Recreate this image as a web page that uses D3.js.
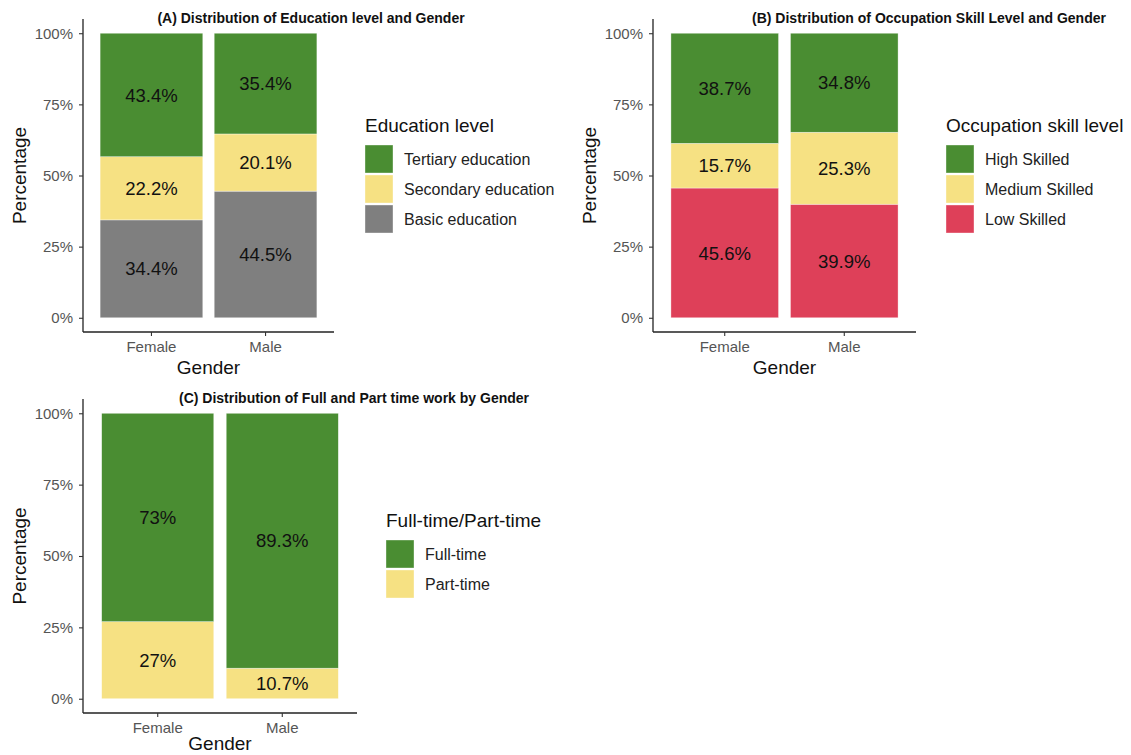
<!DOCTYPE html>
<html>
<head>
<meta charset="utf-8">
<script src="https://cdn.jsdelivr.net/npm/d3@7"></script>
<style>
  html, body { margin: 0; padding: 0; background: #fff; }
  svg { display: block; font-family: "Liberation Sans", Arial, sans-serif; }
</style>
</head>
<body>
<svg id="chart" width="1131" height="755"></svg>
<script>
// Categories and values (percent of each gender)
const genders = ["Female", "Male"];
const yTicks = [0, 25, 50, 75, 100];

const educationLevels = ["Tertiary education", "Secondary education", "Basic education"];
const educationFemale = [43.4, 22.2, 34.4];
const educationMale = [35.4, 20.1, 44.5];

const skillLevels = ["High Skilled", "Medium Skilled", "Low Skilled"];
const skillFemale = [38.7, 15.7, 45.6];
const skillMale = [34.8, 25.3, 39.9];

const workTypes = ["Full-time", "Part-time"];
const workFemale = [73, 27];
const workMale = [89.3, 10.7];

const GREEN = "#4a8d32", YELLOW = "#f6e183", GREY = "#7f7f7f", RED = "#de4059";

const svg = d3.select("#chart");

function drawPanel(opt) {
  const { left, right, top, bottom, categories, female, male, colors } = opt;
  const g = svg.append("g");

  // rows: one object per gender with a field per category
  const rows = genders.map((gd, i) => {
    const vals = i === 0 ? female : male;
    const r = { gender: gd };
    categories.forEach((c, j) => r[c] = vals[j]);
    return r;
  });

  const x = d3.scaleBand().domain(genders).range([left, right])
    .paddingInner(0.1).paddingOuter(0.15);
  const y = d3.scaleLinear().domain([-5, 105]).range([bottom, top]);
  const color = d3.scaleOrdinal().domain(categories).range(colors);

  // last category sits at the bottom of the stack
  const stack = d3.stack().keys(categories.slice().reverse());
  const series = stack(rows);

  const layers = g.selectAll("g.layer").data(series).join("g")
    .attr("class", "layer").attr("fill", d => color(d.key));

  layers.selectAll("rect").data(d => d).join("rect")
    .attr("x", d => x(d.data.gender))
    .attr("width", x.bandwidth())
    .attr("y", d => y(d[1]))
    .attr("height", d => y(d[0]) - y(d[1]))
    .attr("stroke", "#ffffff").attr("stroke-opacity", 0.6).attr("stroke-width", 0.6);

  layers.selectAll("text").data(d => d).join("text")
    .attr("x", d => x(d.data.gender) + x.bandwidth() / 2)
    .attr("y", d => y((d[0] + d[1]) / 2))
    .attr("dy", "0.36em")
    .attr("text-anchor", "middle")
    .attr("font-size", 18.5)
    .attr("fill", "#111")
    .text(d => (d[1] - d[0]).toFixed(1).replace(/\.0$/, "") + "%");

  // y axis
  const yAxis = g.append("g").attr("transform", `translate(${left},0)`)
    .call(d3.axisLeft(y).tickValues(yTicks).tickSize(4).tickPadding(6)
      .tickFormat(d => d + "%"));
  yAxis.select(".domain").attr("d", `M0,${top}V${bottom}`);

  // x axis
  const xAxis = g.append("g").attr("transform", `translate(0,${bottom})`)
    .call(d3.axisBottom(x).tickSize(4).tickPadding(5));
  xAxis.select(".domain").attr("d", `M${left},0H${right}`);

  [yAxis, xAxis].forEach(ax => {
    ax.select(".domain").attr("stroke", "#222").attr("stroke-width", 1.3);
    ax.selectAll(".tick line").attr("stroke", "#333").attr("stroke-width", 1.1);
    ax.selectAll(".tick text").attr("fill", "#555").attr("font-size", 15)
      .attr("font-family", "Liberation Sans, Arial, sans-serif");
  });
  xAxis.selectAll(".tick text").attr("dy", "0.71em");

  // axis titles
  g.append("text")
    .attr("transform", `translate(${left - 57},${(top + bottom) / 2}) rotate(-90)`)
    .attr("text-anchor", "middle").attr("font-size", 19).attr("fill", "#111")
    .text("Percentage");
  g.append("text")
    .attr("x", (left + right) / 2).attr("y", bottom + (opt.genderGap || 42))
    .attr("text-anchor", "middle").attr("font-size", 19).attr("fill", "#111")
    .text("Gender");

  // panel title
  g.append("text")
    .attr("x", opt.titleX).attr("y", top + 4)
    .attr("text-anchor", "middle").attr("font-size", 14).attr("font-weight", "bold")
    .attr("fill", "#111")
    .text(opt.title);

  // legend
  const lg = g.append("g").attr("transform", `translate(${opt.legendX},${opt.legendY})`);
  lg.append("text").attr("x", 0).attr("y", 0)
    .attr("font-size", 19).attr("fill", "#111").text(opt.legendTitle);
  const items = lg.selectAll("g.item").data(categories).join("g")
    .attr("class", "item")
    .attr("transform", (d, i) => `translate(0,${13 + i * 30})`);
  items.append("rect").attr("width", 28).attr("height", 28)
    .attr("fill", d => color(d))
    .attr("stroke", "#ffffff").attr("stroke-opacity", 0.6).attr("stroke-width", 0.6);
  items.append("text").attr("x", 39).attr("y", 14).attr("dy", "0.36em")
    .attr("font-size", 16).attr("fill", "#222").text(d => d);
}

drawPanel({
  left: 83, right: 334, top: 19, bottom: 332,
  categories: educationLevels, female: educationFemale, male: educationMale,
  colors: [GREEN, YELLOW, GREY],
  title: "(A) Distribution of Education level and Gender", titleX: 311,
  legendTitle: "Education level", legendX: 365, legendY: 132
});

drawPanel({
  left: 653, right: 916, top: 19, bottom: 332,
  categories: skillLevels, female: skillFemale, male: skillMale,
  colors: [GREEN, YELLOW, RED],
  title: "(B) Distribution of Occupation Skill Level and Gender", titleX: 929,
  legendTitle: "Occupation skill level", legendX: 946, legendY: 132
});

drawPanel({
  left: 83, right: 357, top: 399, bottom: 713,
  categories: workTypes, female: workFemale, male: workMale,
  colors: [GREEN, YELLOW],
  title: "(C) Distribution of Full and Part time work by Gender", titleX: 354,
  legendTitle: "Full-time/Part-time", legendX: 386, legendY: 527,
  genderGap: 37
});
</script>
</body>
</html>
